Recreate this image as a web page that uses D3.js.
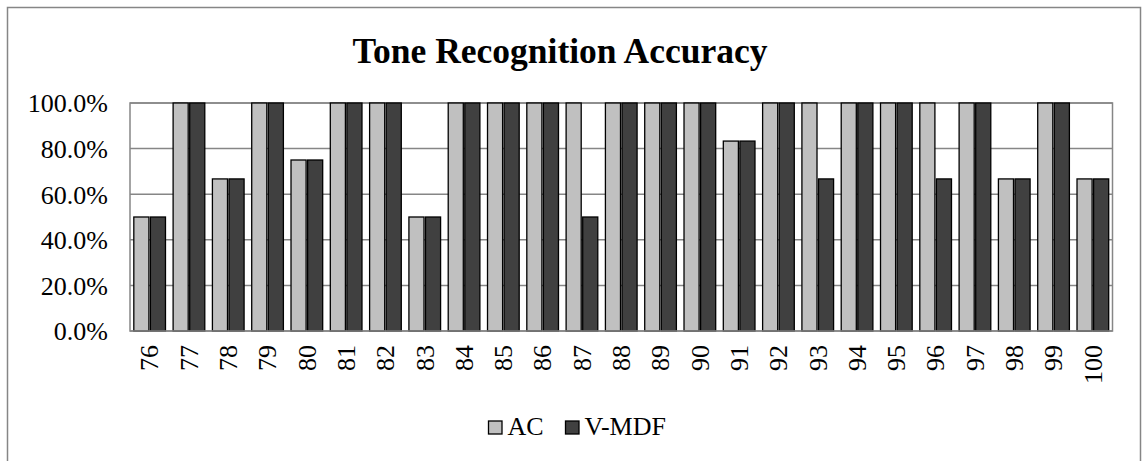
<!DOCTYPE html>
<html>
<head>
<meta charset="utf-8">
<script src="https://cdn.jsdelivr.net/npm/d3@7"></script>
<style>
  body { margin: 0; background: #fff; }
  svg { display: block; font-family: "Liberation Serif", "Times New Roman", serif; }
</style>
</head>
<body>
<svg width="1143" height="461"></svg>
<script>
// categories (speaker / sample ids)
const categories = ['76','77','78','79','80','81','82','83','84','85','86','87','88',
  '89','90','91','92','93','94','95','96','97','98','99','100'];

// accuracy per category, in percent
const acValues   = [50,100,66.7,100,75,100,100,50,100,100,100,100,100,100,100,83.3,100,100,100,100,100,100,66.7,100,66.7];
const vmdfValues = [50,100,66.7,100,75,100,100,50,100,100,100,50,100,100,100,83.3,100,66.7,100,100,66.7,100,66.7,100,66.7];

const seriesNames = ['AC', 'V-MDF'];
const seriesColors = ['#c0c0c0', '#404040'];
const yTicks = [0, 20, 40, 60, 80, 100];

const rows = categories.map((c, i) => ({ cat: c, vals: [acValues[i], vmdfValues[i]] }));

const svg = d3.select('svg');
const plot = { left: 130, right: 1112.5, top: 103, bottom: 331 };

// outer chart frame
svg.append('rect')
  .attr('x', 7.5).attr('y', 7.5)
  .attr('width', 1133).attr('height', 470)
  .attr('fill', 'none').attr('stroke', '#868686').attr('stroke-width', 1.5);

// title
svg.append('text')
  .attr('x', 560).attr('y', 63)
  .attr('text-anchor', 'middle')
  .attr('font-size', 35.5).attr('font-weight', 'bold')
  .text('Tone Recognition Accuracy');

const x = d3.scaleBand().domain(categories).range([plot.left, plot.right]).padding(0);
const x1 = d3.scaleBand().domain([0, 1]).range([0, x.bandwidth()])
  .paddingInner(0.09).paddingOuter(0.23);
const y = d3.scaleLinear().domain([0, 100]).range([plot.bottom, plot.top]);

// gridlines
svg.append('g').selectAll('line')
  .data(yTicks.filter(d => d > 0))
  .join('line')
  .attr('x1', plot.left).attr('x2', plot.right)
  .attr('y1', d => y(d)).attr('y2', d => y(d))
  .attr('stroke', '#868686').attr('stroke-width', 1.5);

// plot area border
svg.append('rect')
  .attr('x', plot.left).attr('y', plot.top)
  .attr('width', plot.right - plot.left).attr('height', plot.bottom - plot.top)
  .attr('fill', 'none').attr('stroke', '#868686').attr('stroke-width', 1.5);

// y axis labels
const yAxis = d3.axisLeft(y).tickValues(yTicks).tickSize(0).tickPadding(0)
  .tickFormat(d => d.toFixed(1) + '%');
svg.append('g')
  .attr('transform', `translate(${plot.left - 22},0)`)
  .call(yAxis)
  .call(g => g.select('.domain').remove())
  .call(g => g.selectAll('text')
    .attr('font-family', '"Liberation Serif", serif')
    .attr('font-size', 26).attr('fill', '#000').attr('dy', '0.34em'));

// bars
const groups = svg.append('g').selectAll('g')
  .data(rows)
  .join('g')
  .attr('transform', d => `translate(${x(d.cat)},0)`);

groups.selectAll('rect')
  .data(d => d.vals.map((v, i) => ({ v, i })))
  .join('rect')
  .attr('x', d => x1(d.i))
  .attr('width', x1.bandwidth())
  .attr('y', d => y(d.v))
  .attr('height', d => y(0) - y(d.v))
  .attr('fill', d => seriesColors[d.i])
  .attr('stroke', '#000').attr('stroke-width', 1.3);

// x axis line
svg.append('line')
  .attr('x1', plot.left).attr('x2', plot.right)
  .attr('y1', plot.bottom).attr('y2', plot.bottom)
  .attr('stroke', '#868686').attr('stroke-width', 1.5);

// x labels (rotated)
const xAxis = d3.axisBottom(x).tickSize(0).tickPadding(0);
svg.append('g')
  .attr('transform', `translate(0,${plot.bottom})`)
  .call(xAxis)
  .call(g => g.select('.domain').remove())
  .call(g => g.selectAll('text')
    .attr('font-family', '"Liberation Serif", serif')
    .attr('font-size', 26).attr('fill', '#000')
    .attr('text-anchor', 'end')
    .attr('transform', 'rotate(-90)')
    .attr('x', -14).attr('y', 0).attr('dy', '0.34em'));

// legend
const legendItems = [
  { name: seriesNames[0], color: seriesColors[0], x: 488.5 },
  { name: seriesNames[1], color: seriesColors[1], x: 565.5 }
];
const legend = svg.append('g').selectAll('g')
  .data(legendItems)
  .join('g')
  .attr('transform', d => `translate(${d.x},421)`);
legend.append('rect')
  .attr('width', 13.5).attr('height', 13)
  .attr('fill', d => d.color).attr('stroke', '#000').attr('stroke-width', 1.3);
legend.append('text')
  .attr('x', 19).attr('y', 14)
  .attr('font-size', 26)
  .text(d => d.name);
</script>
</body>
</html>
